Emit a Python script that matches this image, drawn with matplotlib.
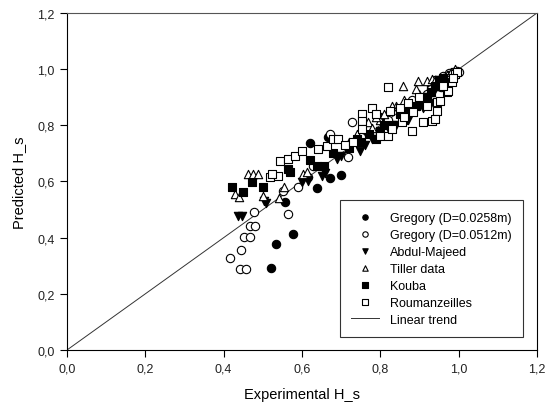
import matplotlib.pyplot as plt
from matplotlib.ticker import FuncFormatter

plt.rcParams['font.family'] = ['Liberation Sans', 'DejaVu Sans']

# Gregory, D = 0.0258 m
greg1_x = [0.521, 0.534, 0.577, 0.557, 0.638, 0.671, 0.700, 0.620, 0.666, 0.80, 0.90, 0.95,
           0.93, 0.97]
greg1_y = [0.292, 0.377, 0.413, 0.527, 0.577, 0.612, 0.623, 0.737, 0.758, 0.83, 0.90, 0.95,
           0.94, 0.96]

# Gregory, D = 0.0512 m
greg2_x = [0.416, 0.442, 0.457, 0.444, 0.452, 0.467, 0.467, 0.480, 0.477, 0.551, 0.564, 0.590,
           0.615, 0.627, 0.717, 0.728, 0.672, 0.75, 0.82, 0.88, 0.92, 0.95, 0.96, 0.98, 0.99,
           1.0, 0.97, 0.93, 0.94, 0.96, 0.985, 0.995, 0.975, 0.955]
greg2_y = [0.327, 0.288, 0.288, 0.356, 0.402, 0.402, 0.441, 0.441, 0.491, 0.566, 0.484, 0.580,
           0.616, 0.655, 0.687, 0.811, 0.769, 0.76, 0.82, 0.89, 0.91, 0.95, 0.96, 0.97, 0.98,
           0.99, 0.94, 0.93, 0.96, 0.975, 0.99, 0.995, 0.985, 0.935]

# Abdul-Majeed
abdul_x = [0.437, 0.447, 0.503, 0.508, 0.600, 0.615, 0.651, 0.66, 0.689, 0.748, 0.78, 0.80,
           0.84, 0.86, 0.88, 0.90, 0.92, 0.94, 0.95, 0.97, 0.96, 0.98, 0.82, 0.87, 0.91,
           0.93, 0.76, 0.70]
abdul_y = [0.477, 0.477, 0.530, 0.524, 0.598, 0.601, 0.619, 0.63, 0.680, 0.708, 0.75, 0.78,
           0.80, 0.84, 0.85, 0.87, 0.90, 0.93, 0.96, 0.97, 0.94, 0.98, 0.79, 0.82, 0.86,
           0.88, 0.73, 0.69]

# Tiller data
tiller_x = [0.429, 0.440, 0.462, 0.475, 0.488, 0.500, 0.541, 0.555, 0.602, 0.612, 0.768, 0.78,
            0.80, 0.82, 0.84, 0.858, 0.87, 0.896, 0.919, 0.932, 0.90, 0.93, 0.95, 0.97, 0.99,
            0.96, 0.79, 0.81, 0.83, 0.86, 0.89, 0.94, 0.98, 0.72, 0.74]
tiller_y = [0.555, 0.545, 0.626, 0.626, 0.626, 0.548, 0.541, 0.58, 0.626, 0.635, 0.811, 0.79,
            0.82, 0.85, 0.87, 0.939, 0.88, 0.957, 0.957, 0.964, 0.91, 0.92, 0.94, 0.98, 1.00,
            0.97, 0.83, 0.84, 0.87, 0.89, 0.93, 0.96, 0.99, 0.74, 0.77]

# Kouba
kouba_x = [0.421, 0.449, 0.472, 0.500, 0.564, 0.569, 0.620, 0.638, 0.655, 0.740, 0.75, 0.79,
           0.80, 0.83, 0.86, 0.88, 0.90, 0.92, 0.94, 0.95, 0.93, 0.97, 0.77, 0.81, 0.85,
           0.87, 0.89, 0.91, 0.96, 0.72, 0.68]
kouba_y = [0.580, 0.562, 0.598, 0.580, 0.644, 0.633, 0.676, 0.655, 0.655, 0.751, 0.74, 0.75,
           0.78, 0.80, 0.82, 0.86, 0.88, 0.89, 0.94, 0.96, 0.92, 0.95, 0.77, 0.80, 0.84,
           0.85, 0.87, 0.90, 0.97, 0.72, 0.70]

# Roumanzeilles
rouman_x = [0.518, 0.539, 0.523, 0.544, 0.564, 0.582, 0.600, 0.641, 0.664, 0.679, 0.692, 0.753,
            0.753, 0.753, 0.799, 0.820, 0.830, 0.855, 0.881, 0.909, 0.820, 0.825, 0.883, 0.932,
            0.945, 0.945, 0.940, 0.952, 0.970, 0.983, 0.991, 0.973, 0.995, 0.78, 0.79, 0.85,
            0.87, 0.90, 0.86, 0.96, 0.985, 0.92, 0.71, 0.73]
rouman_y = [0.616, 0.619, 0.626, 0.673, 0.680, 0.690, 0.708, 0.715, 0.726, 0.751, 0.751, 0.840,
            0.815, 0.786, 0.762, 0.762, 0.786, 0.811, 0.779, 0.811, 0.936, 0.851, 0.847, 0.815,
            0.851, 0.883, 0.822, 0.886, 0.918, 0.954, 0.982, 0.922, 0.99, 0.86, 0.84, 0.86,
            0.88, 0.90, 0.83, 0.94, 0.97, 0.87, 0.73, 0.74]

trend_x = [0.0, 1.2]
trend_y = [0.0, 1.2]

fig = plt.figure(figsize=(5.46, 4.10), dpi=100)
ax = fig.add_axes([0.1227, 0.1439, 0.8608, 0.8220])

ms = 36
ax.scatter(greg1_x, greg1_y, s=ms, marker='o', facecolor='black', edgecolor='black',
           linewidth=0.8, label='Gregory (D=0.0258m)', zorder=3)
ax.scatter(greg2_x, greg2_y, s=ms, marker='o', facecolor='white', edgecolor='black',
           linewidth=0.8, label='Gregory (D=0.0512m)', zorder=3)
ax.scatter(abdul_x, abdul_y, s=ms, marker='v', facecolor='black', edgecolor='black',
           linewidth=0.8, label='Abdul-Majeed', zorder=3)
ax.scatter(tiller_x, tiller_y, s=ms, marker='^', facecolor='white', edgecolor='black',
           linewidth=0.8, label='Tiller data', zorder=3)
ax.scatter(kouba_x, kouba_y, s=ms, marker='s', facecolor='black', edgecolor='black',
           linewidth=0.8, label='Kouba', zorder=3)
ax.scatter(rouman_x, rouman_y, s=ms, marker='s', facecolor='white', edgecolor='black',
           linewidth=0.8, label='Roumanzeilles', zorder=3)
ax.plot(trend_x, trend_y, color='#333333', linewidth=0.7, label='Linear trend', zorder=2)

ax.set_xlim(0, 1.2)
ax.set_ylim(0, 1.2)
ticks = [0.0, 0.2, 0.4, 0.6, 0.8, 1.0, 1.2]
ax.set_xticks(ticks)
ax.set_yticks(ticks)
comma = FuncFormatter(lambda v, pos: f'{v:.1f}'.replace('.', ','))
ax.xaxis.set_major_formatter(comma)
ax.yaxis.set_major_formatter(comma)
ax.tick_params(direction='out', length=5, width=0.8, labelsize=9, colors='black',
               labelcolor='#222222', top=False, right=False, pad=4)
for sp in ax.spines.values():
    sp.set_linewidth(0.8)
ax.spines['top'].set_color('#555555')

ax.set_xlabel('Experimental H_s', fontsize=10.5, labelpad=9)
ax.set_ylabel('Predicted H_s', fontsize=10.5, labelpad=8)

leg = ax.legend(loc='lower right', bbox_to_anchor=(0.970, 0.039), fontsize=9,
                frameon=True, fancybox=False, edgecolor='black', markerscale=0.65,
                handlelength=2.2, labelspacing=0.4, borderpad=0.9, handletextpad=0.9,
                borderaxespad=0)
leg.get_frame().set_linewidth(0.8)

fig.savefig('out.png', dpi=100)
